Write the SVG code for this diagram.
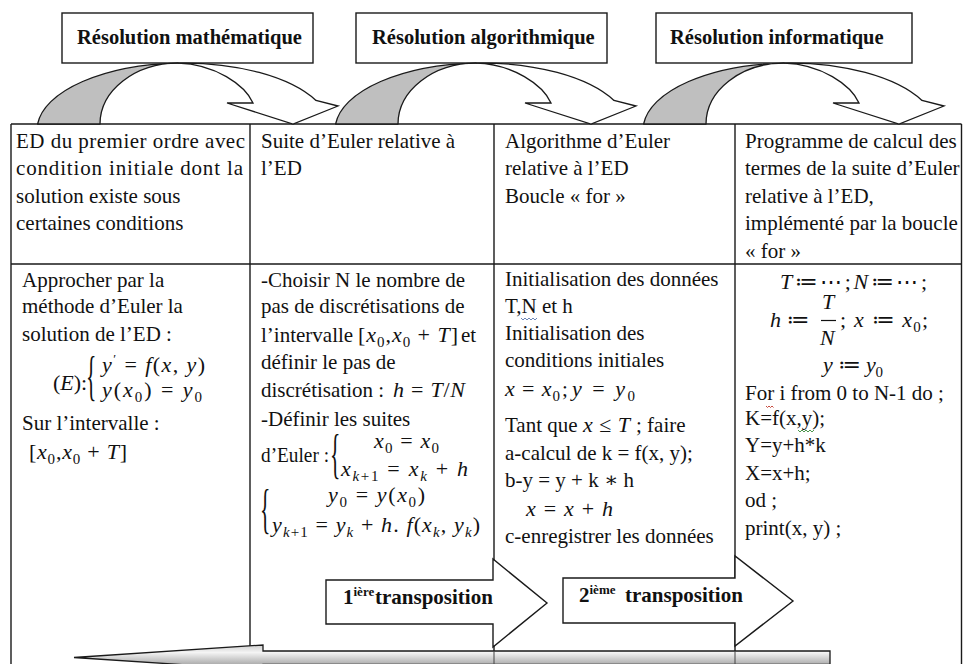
<svg xmlns="http://www.w3.org/2000/svg" width="963" height="664" viewBox="0 0 963 664">
<style>
text{font-family:"Liberation Serif","Times New Roman","DejaVu Serif",serif;font-size:21px;fill:#111}
.hd{font-size:20.5px;font-weight:bold}
.bd{font-weight:bold}
.m{font-size:22px}
.i{font-style:italic}
.s{font-size:15px}
.sup{font-size:13px}
.br{font-size:54px}
.ln{stroke:#1a1a1a;stroke-width:1.4;fill:none}
.box{fill:#fff;stroke:#1a1a1a;stroke-width:1.4}
.cg{fill:#bfbfbf;stroke:#1a1a1a;stroke-width:1.3;stroke-linejoin:round}
.cw{fill:#fff;stroke:#1a1a1a;stroke-width:1.3;stroke-linejoin:miter}
.tr{fill:#fff;stroke:#1a1a1a;stroke-width:1.4}
.sq{fill:none;stroke-width:0.9}
</style>
<defs>
<linearGradient id="gbar" x1="0" y1="0" x2="0" y2="1">
<stop offset="0" stop-color="#cfcfcf"/>
<stop offset="0.3" stop-color="#f4f4f4"/>
<stop offset="0.75" stop-color="#b0b0b0"/>
<stop offset="1" stop-color="#707070"/>
</linearGradient>
<g id="curved">
<path class="cg" d="M37.6,124 A147,67 0 0 1 178,63.1 A78,61 0 0 0 100,124 Z"/>
<path class="cw" d="M178,63.1 A147,67 0 0 1 316,100.5 L338,106 L293,124 L227,103 L253,103 C245,85 215,64 178,63.1 Z"/>
</g>
</defs>
<rect width="963" height="664" fill="#fff"/>

<!-- table -->
<g id="table">
<path class="ln" d="M11,124 H961.5 M11,264 H961.5 M11,124 V664 M961.5,124 V664 M250,124 V646 M494,124 V664 M735,124 V664"/>
</g>

<!-- headers -->
<g id="hdr-math"><rect class="box" x="62" y="13" width="251" height="50"/><text class="hd" x="77" y="44">Résolution mathématique</text></g>
<g id="hdr-algo"><rect class="box" x="356" y="13" width="251" height="50"/><text class="hd" x="372" y="44">Résolution algorithmique</text></g>
<g id="hdr-info"><rect class="box" x="656" y="13" width="256" height="50"/><text class="hd" x="670" y="44">Résolution informatique</text></g>

<!-- connectors -->
<g id="connectors">
<use href="#curved"/>
<use href="#curved" transform="translate(298,0)"/>
<use href="#curved" transform="translate(606,0)"/>
<path d="M74,657.5 L263,645 L263,651 L830,651 L830,664.5 L263,664.5 L263,670 Z" fill="url(#gbar)" stroke="#1a1a1a" stroke-width="1.3"/>
<path d="M494,651 V664 M735,651 V664" stroke="#444" stroke-width="1"/>
<g id="transpo1"><path class="tr" d="M326,580 H493 V559 L547,603 L493,647 V624 H326 Z"/>
<text class="bd" x="343" y="604">1<tspan class="sup" dy="-8">ière</tspan><tspan x="375" dy="8">transposition</tspan></text></g>
<g id="transpo2"><path class="tr" d="M563,578 H735 V556 L793,601 L735,646 V623 H563 Z"/>
<text class="bd" x="579" y="602">2<tspan class="sup" dy="-8">ième</tspan><tspan x="625" dy="8">transposition</tspan></text></g>
</g>

<!-- column 1 -->
<g id="col1">
<text x="16" y="148" textLength="229" lengthAdjust="spacing">ED du premier ordre avec</text>
<text x="16" y="175" textLength="227" lengthAdjust="spacing">condition initiale dont la</text>
<text x="16" y="203">solution existe sous</text>
<text x="16" y="230">certaines conditions</text>
<text x="22" y="287">Approcher par la</text>
<text x="22" y="313">méthode d’Euler la</text>
<text x="22" y="341">solution de l’ED :</text>
<text class="m" x="53" y="390">(<tspan class="i">E</tspan>):</text>
<text class="br" transform="translate(86,394) scale(0.4,1)">{</text>
<text class="m" x="102" y="372" textLength="103" lengthAdjust="spacing"><tspan class="i">y</tspan><tspan class="sup" dy="-9">′</tspan><tspan dy="9"> = </tspan><tspan class="i">f</tspan>(<tspan class="i">x</tspan>, <tspan class="i">y</tspan>)</text>
<text class="m" x="102" y="397" textLength="100" lengthAdjust="spacing"><tspan class="i">y</tspan>(<tspan class="i">x</tspan><tspan class="s" dy="5">0</tspan><tspan dy="-5">) = </tspan><tspan class="i">y</tspan><tspan class="s" dy="5">0</tspan></text>
<text x="22" y="430">Sur l’intervalle :</text>
<text class="m" x="29" y="459" textLength="98" lengthAdjust="spacing">[<tspan class="i">x</tspan><tspan class="s" dy="5">0</tspan><tspan dy="-5">,</tspan><tspan class="i">x</tspan><tspan class="s" dy="5">0</tspan><tspan dy="-5"> + </tspan><tspan class="i">T</tspan>]</text>
</g>

<!-- column 2 -->
<g id="col2">
<text x="261" y="148">Suite d’Euler relative à</text>
<text x="261" y="175">l’ED</text>
<text x="261" y="287">-Choisir N le nombre de</text>
<text x="261" y="313">pas de discrétisations de</text>
<text x="261" y="342">l’intervalle</text>
<text class="m" x="358" y="342" textLength="100" lengthAdjust="spacing">[<tspan class="i">x</tspan><tspan class="s" dy="5">0</tspan><tspan dy="-5">,</tspan><tspan class="i">x</tspan><tspan class="s" dy="5">0</tspan><tspan dy="-5"> + </tspan><tspan class="i">T</tspan>]</text>
<text x="461" y="342">et</text>
<text x="261" y="369">définir le pas de</text>
<text x="261" y="397">discrétisation :</text>
<text class="m" x="393" y="397" textLength="72" lengthAdjust="spacing"><tspan class="i">h</tspan> = <tspan class="i">T</tspan>/<tspan class="i">N</tspan></text>
<text x="261" y="426">-Définir les suites</text>
<text x="261" y="462" textLength="68" lengthAdjust="spacingAndGlyphs">d’Euler :</text>
<text class="br" transform="translate(330,472) scale(0.4,1)">{</text>
<text class="m" x="374" y="448" textLength="65" lengthAdjust="spacing"><tspan class="i">x</tspan><tspan class="s" dy="5">0</tspan><tspan dy="-5"> = </tspan><tspan class="i">x</tspan><tspan class="s" dy="5">0</tspan></text>
<text class="m" x="341" y="476" textLength="127" lengthAdjust="spacing"><tspan class="i">x</tspan><tspan class="s i" dy="5">k</tspan><tspan class="s">+1</tspan><tspan dy="-5"> = </tspan><tspan class="i">x</tspan><tspan class="s i" dy="5">k</tspan><tspan dy="-5"> + </tspan><tspan class="i">h</tspan></text>
<text class="br" transform="translate(260,527) scale(0.4,1)">{</text>
<text class="m" x="328" y="502" textLength="97" lengthAdjust="spacing"><tspan class="i">y</tspan><tspan class="s" dy="5">0</tspan><tspan dy="-5"> = </tspan><tspan class="i">y</tspan>(<tspan class="i">x</tspan><tspan class="s" dy="5">0</tspan><tspan dy="-5">)</tspan></text>
<text class="m" x="272" y="532" textLength="208" lengthAdjust="spacing"><tspan class="i">y</tspan><tspan class="s i" dy="5">k</tspan><tspan class="s">+1</tspan><tspan dy="-5"> = </tspan><tspan class="i">y</tspan><tspan class="s i" dy="5">k</tspan><tspan dy="-5"> + </tspan><tspan class="i">h</tspan>. <tspan class="i">f</tspan>(<tspan class="i">x</tspan><tspan class="s i" dy="5">k</tspan><tspan dy="-5">, </tspan><tspan class="i">y</tspan><tspan class="s i" dy="5">k</tspan><tspan dy="-5">)</tspan></text>
</g>

<!-- column 3 -->
<g id="col3">
<text x="505" y="148">Algorithme d’Euler</text>
<text x="505" y="175">relative à l’ED</text>
<text x="505" y="203">Boucle « for »</text>
<text x="505" y="286">Initialisation des données</text>
<text x="505" y="313">T,N et h</text>
<path class="sq" stroke="#5a78b0" d="M521,318 l2,2 l2,-2 l2,2 l2,-2 l2,2 l2,-2 l2,2 l2,-2"/>
<text x="505" y="340">Initialisation des</text>
<text x="505" y="367">conditions initiales</text>
<text class="m" x="505" y="396" textLength="55" lengthAdjust="spacing"><tspan class="i">x</tspan> = <tspan class="i">x</tspan><tspan class="s" dy="5">0</tspan></text>
<text x="562" y="396">;</text>
<text class="m" x="572" y="396" textLength="63" lengthAdjust="spacing"><tspan class="i">y</tspan> = <tspan class="i">y</tspan><tspan class="s" dy="5">0</tspan></text>
<text x="505" y="432">Tant que</text>
<text class="m" x="583" y="432" textLength="47" lengthAdjust="spacing"><tspan class="i">x</tspan> ≤ <tspan class="i">T</tspan></text>
<text x="636" y="432">; faire</text>
<text x="505" y="460">a-calcul de k = f(x, y);</text>
<text x="505" y="487">b-y = y + k ∗ h</text>
<text class="m" x="526" y="516" textLength="87" lengthAdjust="spacing"><tspan class="i">x</tspan> = <tspan class="i">x</tspan> + <tspan class="i">h</tspan></text>
<text x="505" y="543">c-enregistrer les données</text>
</g>

<!-- column 4 -->
<g id="col4">
<text x="745" y="148">Programme de calcul des</text>
<text x="745" y="175">termes de la suite d’Euler</text>
<text x="745" y="203">relative à l’ED,</text>
<text x="745" y="230">implémenté par la boucle</text>
<text x="745" y="258">« for »</text>
<text class="m" x="780" y="289" textLength="147" lengthAdjust="spacing"><tspan class="i">T</tspan> ≔ ⋯ ; <tspan class="i">N</tspan> ≔ ⋯ ;</text>
<text class="m" x="770" y="327"><tspan class="i">h</tspan> ≔</text>
<text class="m i" x="822" y="309">T</text>
<path d="M821,320.5 H836" stroke="#111" stroke-width="1.2"/>
<text class="m i" x="820" y="345">N</text>
<text class="m" x="840" y="327" textLength="88" lengthAdjust="spacing">; <tspan class="i">x</tspan> ≔ <tspan class="i">x</tspan><tspan class="s" dy="5">0</tspan><tspan dy="-5">;</tspan></text>
<text class="m" x="823" y="372" textLength="60" lengthAdjust="spacing"><tspan class="i">y</tspan> ≔ <tspan class="i">y</tspan><tspan class="s" dy="5">0</tspan></text>
<text x="745" y="400">For i from 0 to N-1 do ;</text>
<path class="sq" stroke="#c0392b" d="M766,406 l1.5,1.5 l1.5,-1.5 l1.5,1.5 l1.5,-1.5 l1.5,1.5"/>
<text x="745" y="425">K=f(x,y);</text>
<path class="sq" stroke="#3a8a3a" d="M798,430 l2,2 l2,-2 l2,2 l2,-2 l2,2 l2,-2 l2,2 l2,-2"/>
<text x="745" y="452">Y=y+h*k</text>
<text x="745" y="480">X=x+h;</text>
<text x="745" y="507">od ;</text>
<text x="745" y="535">print(x, y) ;</text>
</g>
</svg>
